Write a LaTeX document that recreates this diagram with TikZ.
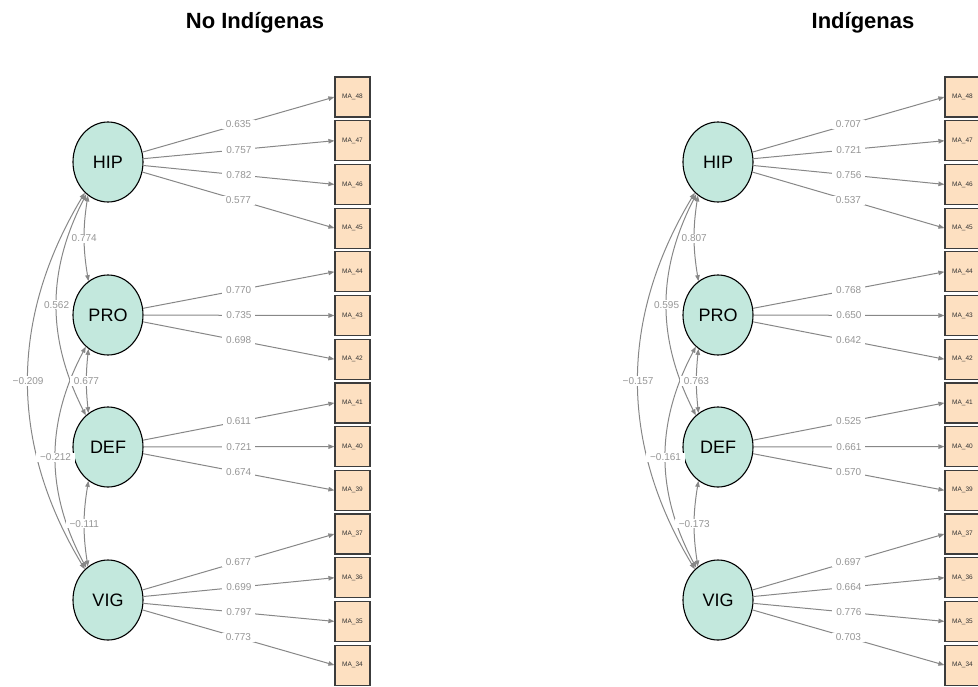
\documentclass[tikz,border=0pt]{standalone}
\usepackage{fontspec}
\setmainfont{Liberation Sans}
\usetikzlibrary{arrows.meta,shapes.geometric}
\definecolor{factorFill}{RGB}{195,232,221}
\definecolor{itemFill}{RGB}{253,224,193}
\definecolor{itemLine}{RGB}{60,60,60}
\definecolor{itemText}{RGB}{50,50,50}
\definecolor{edgeGray}{RGB}{135,135,135}
\definecolor{coefGray}{RGB}{150,150,150}
\tikzset{
    every picture/.style={
        line width=1pt
    },
    % Latent factors and observed items
    factor/.style={
        ellipse, draw=black, line width=1.1pt, fill=factorFill,
        minimum width=70pt, minimum height=80pt, inner sep=0pt,
        font=\fontsize{18}{18}\selectfont
    },
    item/.style={
        rectangle, draw=itemLine, line width=1.2pt, fill=itemFill,
        minimum width=35pt, minimum height=40pt, inner sep=0pt,
        font=\fontsize{6.5}{7}\selectfont, text=itemText
    },
    % Paths and coefficients
    loading/.style={
        draw=edgeGray, -{Triangle[length=6pt,width=4.5pt]}
    },
    covar/.style={
        draw=edgeGray,
        {Triangle[length=6pt,width=4.5pt]}-{Triangle[length=6pt,width=4.5pt]}
    },
    coef/.style={
        fill=white, text=coefGray, font=\fontsize{10}{10}\selectfont,
        inner xsep=4pt, inner ysep=1pt
    },
    panel title/.style={
        font=\fontsize{22}{22}\selectfont\bfseries, anchor=base
    }
}

\begin{document}
\begin{tikzpicture}[x=1pt,y=-1pt]

% Set the canvas size
\useasboundingbox (0,0) rectangle (978,686);
\clip (0,0) rectangle (978,686);

%%%%%%%%%%%%%%%% No Indigenas %%%%%%%%%%%%%%%%
\node[panel title] (Ltitle) at (255,28.3) {No Indígenas};

% Factors
\node[factor] (LHIP) at (108,162) {HIP};
\node[factor] (LPRO) at (108,315) {PRO};
\node[factor] (LDEF) at (108,447) {DEF};
\node[factor] (LVIG) at (108,600) {VIG};

% Items
\foreach \n [count=\k from 0] in {48,47,46,45,44,43,42,41,40,39,37,36,35,34}
    \node[item] (L\n) at (352.5,97+43.7*\k) {MA\_\n};

% Loadings
\foreach \f/\n/\v in {HIP/48/0.635, HIP/47/0.757, HIP/46/0.782, HIP/45/0.577,
                      PRO/44/0.770, PRO/43/0.735, PRO/42/0.698,
                      DEF/41/0.611, DEF/40/0.721, DEF/39/0.674,
                      VIG/37/0.677, VIG/36/0.699, VIG/35/0.797, VIG/34/0.773}
    \draw[loading] (L\f) -- node[coef] {\v} (L\n.west);

% Covariances
\draw[covar] (LHIP.239) to[bend right=9] node[coef] {0.774} (LPRO.120);
\draw[covar] (LHIP.236) to[bend right=27] node[coef] {0.562} (LDEF.125);
\draw[covar] (LHIP.233) to[bend right=31] node[coef] {−0.209} (LVIG.127);
\draw[covar] (LPRO.235) to[bend right=28] node[coef] {−0.212} (LVIG.124);
\draw[covar] (LPRO.240) to[bend right=6] node[coef] {0.677} (LDEF.120);
\draw[covar] (LDEF.240) to[bend right=9] node[coef] {−0.111} (LVIG.121);

%%%%%%%%%%%%%%%% Indigenas %%%%%%%%%%%%%%%%
\begin{scope}[xshift=610pt]
\node[panel title] (Rtitle) at (253,28.3) {Indígenas};

% Factors
\node[factor] (RHIP) at (108,162) {HIP};
\node[factor] (RPRO) at (108,315) {PRO};
\node[factor] (RDEF) at (108,447) {DEF};
\node[factor] (RVIG) at (108,600) {VIG};

% Items
\foreach \n [count=\k from 0] in {48,47,46,45,44,43,42,41,40,39,37,36,35,34}
    \node[item] (R\n) at (352.5,97+43.7*\k) {MA\_\n};

% Loadings
\foreach \f/\n/\v in {HIP/48/0.707, HIP/47/0.721, HIP/46/0.756, HIP/45/0.537,
                      PRO/44/0.768, PRO/43/0.650, PRO/42/0.642,
                      DEF/41/0.525, DEF/40/0.661, DEF/39/0.570,
                      VIG/37/0.697, VIG/36/0.664, VIG/35/0.776, VIG/34/0.703}
    \draw[loading] (R\f) -- node[coef] {\v} (R\n.west);

% Covariances
\draw[covar] (RHIP.239) to[bend right=9] node[coef] {0.807} (RPRO.120);
\draw[covar] (RHIP.236) to[bend right=27] node[coef] {0.595} (RDEF.125);
\draw[covar] (RHIP.233) to[bend right=31] node[coef] {−0.157} (RVIG.127);
\draw[covar] (RPRO.235) to[bend right=28] node[coef] {−0.161} (RVIG.124);
\draw[covar] (RPRO.240) to[bend right=6] node[coef] {0.763} (RDEF.120);
\draw[covar] (RDEF.240) to[bend right=9] node[coef] {−0.173} (RVIG.121);
\end{scope}

\end{tikzpicture}
\end{document}
